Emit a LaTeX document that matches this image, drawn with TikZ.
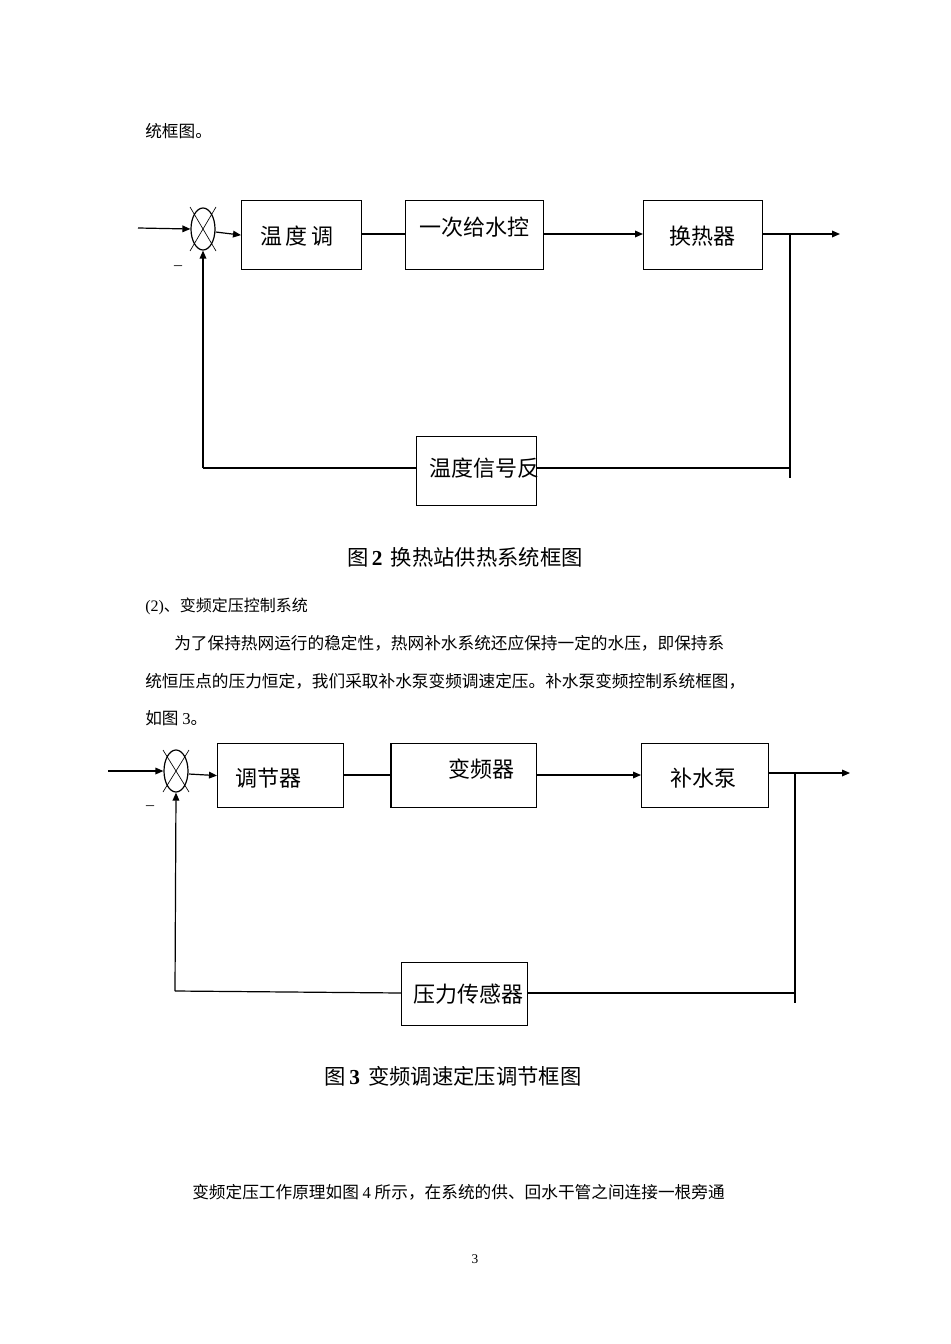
\documentclass[tikz,border=0pt]{standalone}
\usepackage{fontspec}
\setmainfont{Liberation Serif}
\newfontfamily\cjk{Noto Sans CJK SC}
\usetikzlibrary{arrows.meta,shapes.geometric}
\begin{document}
\begin{tikzpicture}[x=0.75pt,y=-0.75pt,
  blk/.style={draw,line width=0.9pt,anchor=north west,inner sep=0pt},
  ln/.style={line width=0.9pt},
  arr/.style={ln,-{Triangle[length=6pt,width=5pt]}},
  bt/.style={font=\cjk\fontsize{16.5pt}{18pt}\selectfont},
  tx/.style={font=\cjk\fontsize{12.5pt}{14pt}\selectfont,anchor=west,inner sep=0pt},
  captxt/.style={font=\cjk\fontsize{16pt}{18pt}\selectfont}]
\useasboundingbox (0,0) rectangle (950,1344);
\fill[white] (0,0) rectangle (950,1344);
\node[tx] (t0) at (145,131) {统框图。};
% diagram 1
\coordinate (in1) at (138,228);
\node[draw,ellipse,minimum width=24*0.75pt,minimum height=42*0.75pt,inner sep=0pt,ln] (s1) at (203,229) {};
\draw[line width=0.5pt] (190,207)--(216,251) (216,207)--(190,251);
\node[blk,minimum width=120*0.75pt,minimum height=69*0.75pt] (a1) at (241,200) {};
\node[bt] at (297,236) {温\,度\,调};
\node[blk,minimum width=138*0.75pt,minimum height=69*0.75pt] (a2) at (405,200) {};
\node[bt] at (474,227) {一次给水控};
\node[blk,minimum width=119*0.75pt,minimum height=69*0.75pt] (a3) at (643,200) {};
\node[bt] at (702,236) {换热器};
\node[blk,minimum width=120*0.75pt,minimum height=69*0.75pt] (f1) at (416,436) {};
\node[bt] at (484,468) {温度信号反};
\coordinate (o1) at (840,234);
\coordinate (j1) at (790,234);
\coordinate (j1b) at (790,478);
\coordinate (l1) at (203,468);
\draw[arr] (in1) -- (s1.west);
\draw[arr] (s1.east) ++(0,3) -- (a1.west);
\draw[ln] (a1.east |- 0,234) -- (a2.west |- 0,234);
\draw[arr] (a2.east |- 0,234) -- (a3.west |- 0,234);
\draw[arr] (a3.east |- 0,234) -- (o1);
\draw[ln] (j1) -- (j1b);
\draw[ln] (790,468) -- (f1.east |- 0,468);
\draw[ln] (f1.west |- 0,468) -- (l1);
\draw[arr] (l1) -- (s1.south);
\node[font=\fontsize{12pt}{12pt}\selectfont] (m1) at (178,266) {\_};
\node[captxt] (c1) at (465,557) {图\,{\rmfamily\bfseries 2}\,\ 换热站供热系统框图};
\node[tx,font=\cjk\fontsize{12pt}{14pt}\selectfont] (h2) at (145,606) {{\rmfamily(2)}、变频定压控制系统};
\node[tx] (p1) at (174,643) {为了保持热网运行的稳定性，热网补水系统还应保持一定的水压，即保持系};
\node[tx] (p2) at (145,681) {统恒压点的压力恒定，我们采取补水泵变频调速定压。补水泵变频控制系统框图，};
\node[tx] (p3) at (145,718) {如图 {\rmfamily 3}。};
% diagram 2
\coordinate (in2) at (108,771);
\node[draw,ellipse,minimum width=24*0.75pt,minimum height=42*0.75pt,inner sep=0pt,ln] (s2) at (176,771) {};
\draw[line width=0.5pt] (163,750)--(189,792) (189,750)--(163,792);
\node[blk,minimum width=126*0.75pt,minimum height=64*0.75pt] (b1) at (217,743) {};
\node[bt] at (268,778) {调节器};
\node[blk,minimum width=146*0.75pt,minimum height=64*0.75pt] (b2) at (390,743) {};
\draw[line width=1.6pt] (391,743)--(391,807);
\node[bt] at (481,769) {变频器};
\node[blk,minimum width=127*0.75pt,minimum height=64*0.75pt] (b3) at (641,743) {};
\node[bt] at (703,778) {补水泵};
\node[blk,minimum width=126*0.75pt,minimum height=63*0.75pt] (f2) at (401,962) {};
\node[bt] at (468,994) {压力传感器};
\coordinate (o2) at (850,773);
\coordinate (j2) at (795,773);
\coordinate (j2b) at (795,1003);
\coordinate (l2) at (175,991);
\draw[arr] (in2) -- (s2.west);
\draw[arr] (s2.east) ++(0,3) -- (b1.west);
\draw[ln] (b1.east |- 0,775) -- (b2.west |- 0,775);
\draw[arr] (b2.east |- 0,775) -- (b3.west |- 0,775);
\draw[arr] (b3.east |- 0,773) -- (o2);
\draw[ln] (j2) -- (j2b);
\draw[ln] (795,993) -- (f2.east |- 0,993);
\draw[ln] (f2.west |- 0,993) -- (l2);
\draw[arr] (l2) -- (s2.south);
\node[font=\fontsize{12pt}{12pt}\selectfont] (m2) at (150,806) {\_};
\node[captxt] (c2) at (453,1076) {图\,{\rmfamily\bfseries 3}\,\ 变频调速定压调节框图};
\node[tx] (p4) at (192,1192) {变频定压工作原理如图 {\rmfamily 4} 所示，在系统的供、回水干管之间连接一根旁通};
\node[font=\fontsize{10pt}{12pt}\selectfont] (pg) at (475,1259) {3};
\end{tikzpicture}
\end{document}
